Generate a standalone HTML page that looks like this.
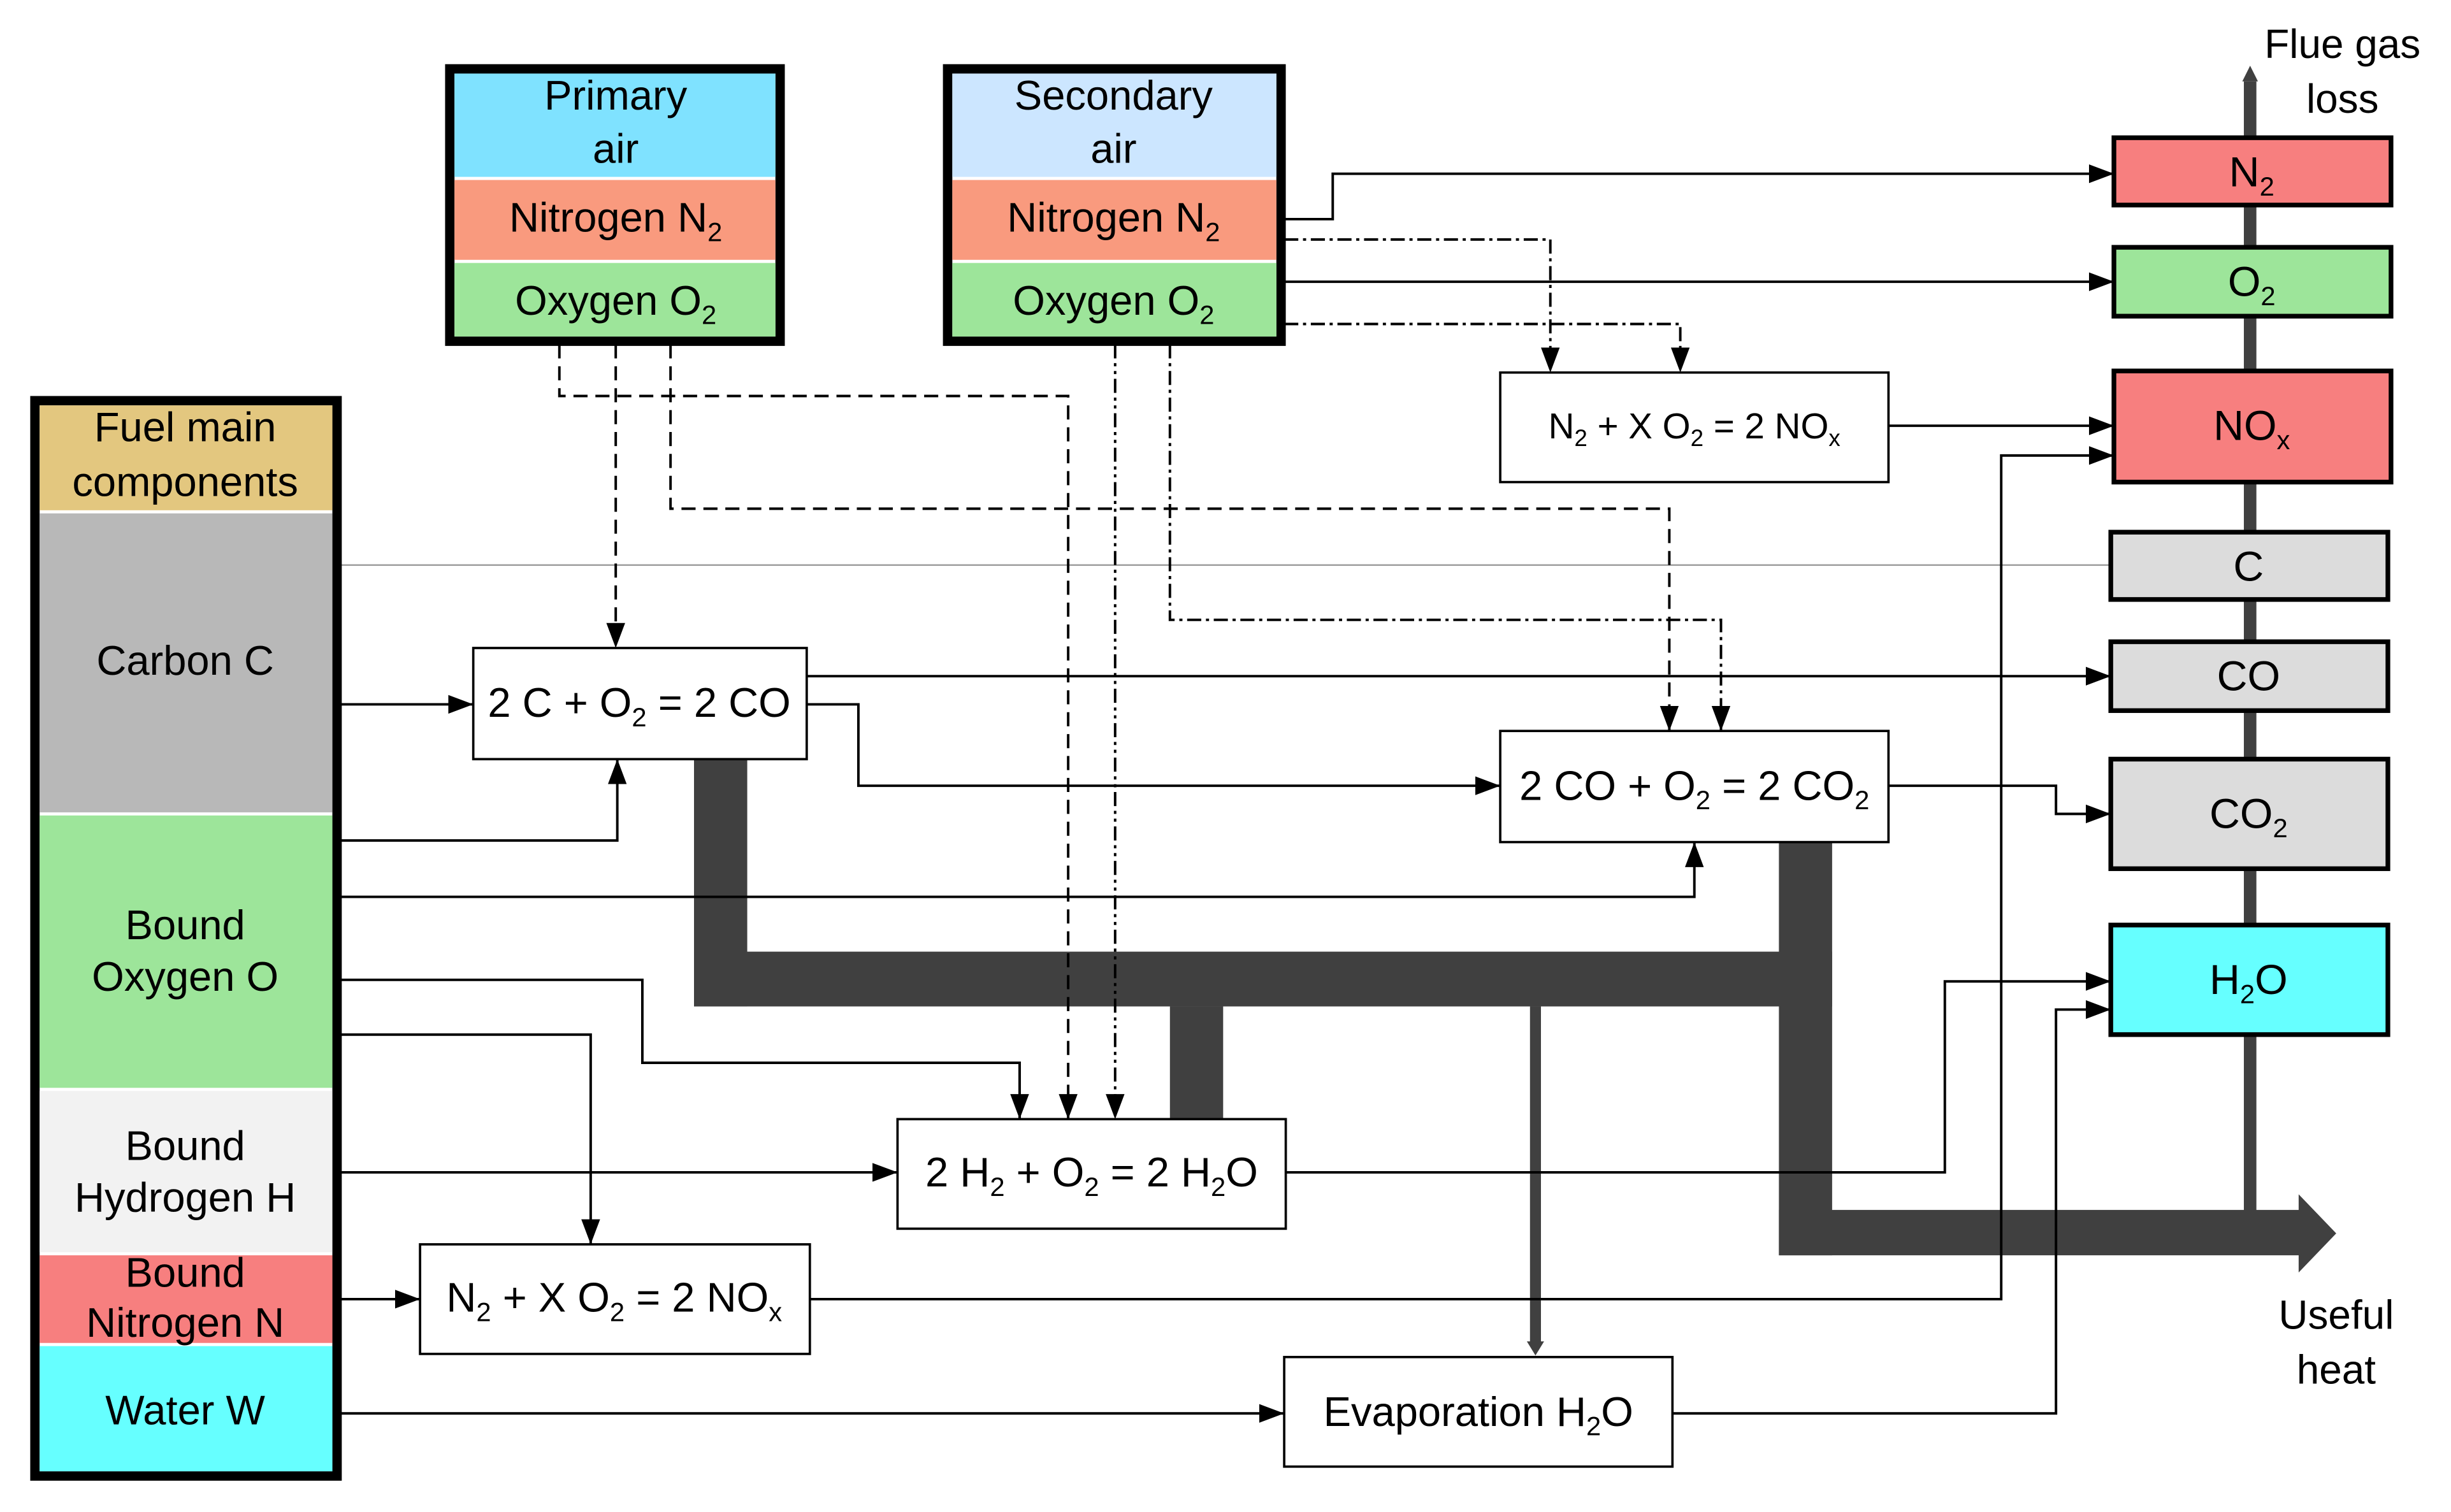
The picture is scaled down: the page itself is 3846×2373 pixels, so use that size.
<!DOCTYPE html>
<html><head><meta charset="utf-8"><style>
html,body{margin:0;padding:0;background:#fff;}
svg{display:block;}
text{font-family:"Liberation Sans",sans-serif;fill:#000;}
</style></head><body>
<svg width="3846" height="2373" viewBox="0 0 1565 966" xmlns="http://www.w3.org/2000/svg">
<defs>
<marker id="a" markerWidth="16" markerHeight="12" refX="16" refY="6" orient="auto" markerUnits="userSpaceOnUse" viewBox="0 0 16 12"><path d="M0,0 L16,6 L0,12 z" fill="#000"/></marker>
</defs>
<rect width="1565" height="966" fill="#fff"/>
<line x1="217" y1="361" x2="1348" y2="361" stroke="#999" stroke-width="1"/>
<line x1="1437" y1="775" x2="1437" y2="52" stroke="#404040" stroke-width="8"/>
<path d="M1432,52 L1437,42 L1442,52 z" fill="#404040"/>
<text x="1496" y="37" font-size="26" text-anchor="middle">Flue gas</text>
<text x="1496" y="72" font-size="26" text-anchor="middle">loss</text>
<g fill="#404040">
<rect x="443" y="485" width="34" height="158"/>
<rect x="443" y="608" width="727" height="35"/>
<rect x="1136" y="538" width="34" height="264"/>
<rect x="1136" y="773" width="334" height="29"/>
<path d="M1468,763 L1492,788 L1468,813 z"/>
<rect x="747" y="643" width="34" height="72"/>
<rect x="977" y="643" width="7" height="215"/>
<path d="M975,857 L980.5,866 L986,857 z"/>
</g>
<text x="1492" y="849" font-size="26" text-anchor="middle">Useful</text>
<text x="1492" y="884" font-size="26" text-anchor="middle">heat</text>
<rect x="22" y="256" width="193" height="687" fill="#fff" stroke="#000" stroke-width="6"/>
<rect x="25" y="259" width="187" height="67" fill="#e3c77f"/>
<rect x="25" y="328" width="187" height="191" fill="#b8b8b8"/>
<rect x="25" y="521" width="187" height="174" fill="#9de59a"/>
<rect x="25" y="697" width="187" height="103" fill="#f2f2f2"/>
<rect x="25" y="802" width="187" height="56" fill="#f77f7f"/>
<rect x="25" y="860" width="187" height="80" fill="#6ff"/>
<g font-size="26.5" text-anchor="middle">
<text x="118" y="282">Fuel main</text><text x="118" y="317">components</text>
<text x="118" y="431">Carbon C</text>
<text x="118" y="600">Bound</text><text x="118" y="633">Oxygen O</text>
<text x="118" y="741">Bound</text><text x="118" y="774">Hydrogen H</text>
<text x="118" y="822">Bound</text><text x="118" y="854">Nitrogen N</text>
<text x="118" y="910">Water W</text>
</g>
<rect x="287" y="44" width="211" height="174" fill="#fff" stroke="#000" stroke-width="6"/>
<rect x="290" y="47" width="205" height="66" fill="#7fe2ff"/>
<rect x="290" y="115" width="205" height="51" fill="#f99a7e"/>
<rect x="290" y="168" width="205" height="47" fill="#9de59a"/>
<rect x="605" y="44" width="213" height="174" fill="#fff" stroke="#000" stroke-width="6"/>
<rect x="608" y="47" width="207" height="66" fill="#cce6ff"/>
<rect x="608" y="115" width="207" height="51" fill="#f99a7e"/>
<rect x="608" y="168" width="207" height="47" fill="#9de59a"/>
<g font-size="26.5" text-anchor="middle">
<text x="393" y="70">Primary</text><text x="393" y="104">air</text>
<text x="393" y="148">Nitrogen N<tspan font-size="17" dy="6">2</tspan></text>
<text x="393" y="201">Oxygen O<tspan font-size="17" dy="6">2</tspan></text>
<text x="711" y="70">Secondary</text><text x="711" y="104">air</text>
<text x="711" y="148">Nitrogen N<tspan font-size="17" dy="6">2</tspan></text>
<text x="711" y="201">Oxygen O<tspan font-size="17" dy="6">2</tspan></text>
</g>
<g stroke="#000" stroke-width="3">
<rect x="1350" y="88" width="177" height="43" fill="#f77f7f"/>
<rect x="1350" y="158" width="177" height="44" fill="#9de59a"/>
<rect x="1350" y="237" width="177" height="71" fill="#f77f7f"/>
<rect x="1348" y="340" width="177" height="43" fill="#dcdcdc"/>
<rect x="1348" y="410" width="177" height="44" fill="#dcdcdc"/>
<rect x="1348" y="485" width="177" height="70" fill="#dcdcdc"/>
<rect x="1348" y="591" width="177" height="70" fill="#6ff"/>
</g>
<g font-size="27" text-anchor="middle">
<text x="1438" y="119">N<tspan font-size="17" dy="6">2</tspan></text>
<text x="1438" y="189">O<tspan font-size="17" dy="6">2</tspan></text>
<text x="1438" y="281">NO<tspan font-size="17" dy="6">x</tspan></text>
<text x="1436" y="371">C</text>
<text x="1436" y="441">CO</text>
<text x="1436" y="529">CO<tspan font-size="17" dy="6">2</tspan></text>
<text x="1436" y="635">H<tspan font-size="17" dy="6">2</tspan><tspan dy="-6">O</tspan></text>
</g>
<g fill="#fff" stroke="#000" stroke-width="1.5">
<rect x="302" y="414" width="213" height="71"/>
<rect x="958" y="467" width="248" height="71"/>
<rect x="958" y="238" width="248" height="70"/>
<rect x="573" y="715" width="248" height="70"/>
<rect x="268" y="795" width="249" height="70"/>
<rect x="820" y="867" width="248" height="70"/>
</g>
<g font-size="26.5" text-anchor="middle">
<text x="408" y="458">2 C + O<tspan font-size="17" dy="6">2</tspan><tspan dy="-6"> = 2 CO</tspan></text>
<text x="1082" y="511">2 CO + O<tspan font-size="17" dy="6">2</tspan><tspan dy="-6"> = 2 CO</tspan><tspan font-size="17" dy="6">2</tspan></text>
<text x="1082" y="280" font-size="23">N<tspan font-size="15" dy="5">2</tspan><tspan dy="-5"> + X O</tspan><tspan font-size="15" dy="5">2</tspan><tspan dy="-5"> = 2 NO</tspan><tspan font-size="15" dy="5">x</tspan></text>
<text x="697" y="758">2 H<tspan font-size="17" dy="6">2</tspan><tspan dy="-6"> + O</tspan><tspan font-size="17" dy="6">2</tspan><tspan dy="-6"> = 2 H</tspan><tspan font-size="17" dy="6">2</tspan><tspan dy="-6">O</tspan></text>
<text x="392" y="838">N<tspan font-size="17" dy="6">2</tspan><tspan dy="-6"> + X O</tspan><tspan font-size="17" dy="6">2</tspan><tspan dy="-6"> = 2 NO</tspan><tspan font-size="17" dy="6">x</tspan></text>
<text x="944" y="911">Evaporation H<tspan font-size="17" dy="6">2</tspan><tspan dy="-6">O</tspan></text>
</g>
<g fill="none" stroke="#000" stroke-width="1.6" marker-end="url(#a)">
<polyline points="820,140 851,140 851,111 1350,111"/>
<polyline points="820,180 1350,180"/>
<polyline points="1206,272 1350,272"/>
<polyline points="517,830 1278,830 1278,291 1350,291"/>
<polyline points="515,432 1348,432"/>
<polyline points="515,450 548,450 548,502 958,502"/>
<polyline points="1206,502 1313,502 1313,520 1348,520"/>
<polyline points="821,749 1242,749 1242,627 1348,627"/>
<polyline points="1068,903 1313,903 1313,645 1348,645"/>
<polyline points="217,450 302,450"/>
<polyline points="217,537 394,537 394,485"/>
<polyline points="217,573 1082,573 1082,538"/>
<polyline points="217,626 410,626 410,679 651,679 651,715"/>
<polyline points="217,661 377,661 377,795"/>
<polyline points="217,749 573,749"/>
<polyline points="217,830 268,830"/>
<polyline points="217,903 820,903"/>
</g>
<g fill="none" stroke="#000" stroke-width="1.6" marker-end="url(#a)" stroke-dasharray="9,5">
<polyline points="357,220 357,253 682,253 682,715"/>
<polyline points="393,220 393,414"/>
<polyline points="428,220 428,325 1066,325 1066,467"/>
</g>
<g fill="none" stroke="#000" stroke-width="1.6" marker-end="url(#a)" stroke-dasharray="9,3,2,3">
<polyline points="820,153 990,153 990,238"/>
<polyline points="820,207 1073,207 1073,238"/>
<polyline points="747,220 747,396 1099,396 1099,467"/>
</g>
<g fill="none" stroke="#000" stroke-width="1.6" marker-end="url(#a)" stroke-dasharray="9,3,2,3,2,3">
<polyline points="712,220 712,715"/>
</g>
</svg>
</body></html>
